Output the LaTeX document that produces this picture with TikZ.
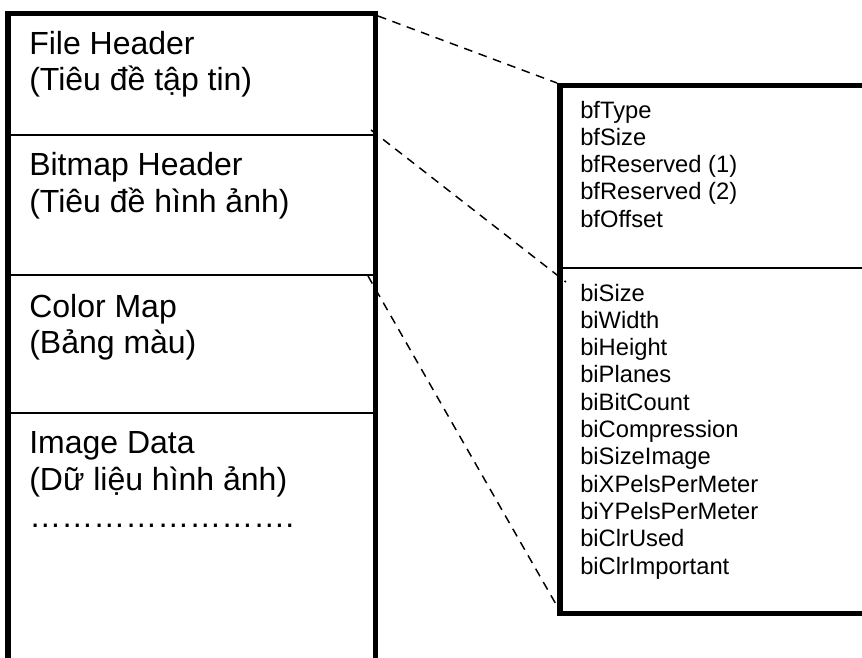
\documentclass[tikz,border=0pt]{standalone}
\usepackage{fontspec}
\setmainfont{Liberation Sans}
\begin{document}
\begin{tikzpicture}[
  x=0.75pt, y=-0.75pt,
  frame/.style={line width=3.9pt, line join=miter, line cap=rect},
  divider/.style={line width=1.7pt},
  link/.style={line width=1.1pt, dash pattern=on 6.5pt off 5pt},
  sect/.style={anchor=base west, inner sep=0pt, font=\fontsize{24}{28}\selectfont},
  field/.style={anchor=base west, inner sep=0pt, font=\fontsize{17.8}{20.5}\selectfont}
]
\useasboundingbox (0,0) rectangle (862,657);

% corner and end points of the two boxes
\coordinate (LTL) at (8,13.5);
\coordinate (LTR) at (375.5,13.5);
\coordinate (LBL) at (8,665);
\coordinate (LBR) at (375.5,665);
\coordinate (RTL) at (560,85.5);
\coordinate (RTR) at (870,85.5);
\coordinate (RBL) at (560,613.5);
\coordinate (RBR) at (870,613.5);

% ends of the dashed links
\coordinate (a1) at (378,16);
\coordinate (b1) at (557,83);
\coordinate (a2) at (371,130);
\coordinate (b2) at (566,282);
\coordinate (a3) at (368,276);
\coordinate (b3) at (557,606);

% dashed links from the file layout to the header fields
\draw[link] (a1) -- (b1);
\draw[link] (a2) -- (b2);
\draw[link] (a3) -- (b3);

% file layout (open at the bottom)
\coordinate (d1l) at (8,135);   \coordinate (d1r) at (375.5,135);
\coordinate (d2l) at (8,275);   \coordinate (d2r) at (375.5,275);
\coordinate (d3l) at (8,413);   \coordinate (d3r) at (375.5,413);
\draw[divider] (d1l) -- (d1r);
\draw[divider] (d2l) -- (d2r);
\draw[divider] (d3l) -- (d3r);
\draw[frame] (LBL) -- (LTL) -- (LTR) -- (LBR);

% header fields box (open on the right)
\coordinate (r1l) at (560,268); \coordinate (r1r) at (870,268);
\draw[divider] (r1l) -- (r1r);
\draw[frame] (RTR) -- (RTL) -- (RBL) -- (RBR);

% section labels
\node[sect] (fh1) at (29,54)  {File Header};
\node[sect] (fh2) at (29,90)  {(Tiêu đề tập tin)};
\node[sect] (bh1) at (29,175) {Bitmap Header};
\node[sect] (bh2) at (29,212) {(Tiêu đề hình ảnh)};
\node[sect] (cm1) at (29,317) {Color Map};
\node[sect] (cm2) at (29,353) {(Bảng màu)};
\node[sect] (id1) at (29,453) {Image Data};
\node[sect] (id2) at (29,490) {(Dữ liệu hình ảnh)};
\node[sect] (id3) at (29,527) {…………………….};

% file header fields
\node[field] (f1) at (580,118)   {bfType};
\node[field] (f2) at (580,145.3) {bfSize};
\node[field] (f3) at (580,172.6) {bfReserved (1)};
\node[field] (f4) at (580,199.9) {bfReserved (2)};
\node[field] (f5) at (580,227.2) {bfOffset};

% bitmap header fields
\node[field] (g1)  at (580,301)   {biSize};
\node[field] (g2)  at (580,328.3) {biWidth};
\node[field] (g3)  at (580,355.6) {biHeight};
\node[field] (g4)  at (580,382.9) {biPlanes};
\node[field] (g5)  at (580,410.2) {biBitCount};
\node[field] (g6)  at (580,437.5) {biCompression};
\node[field] (g7)  at (580,464.8) {biSizeImage};
\node[field] (g8)  at (580,492.1) {biXPelsPerMeter};
\node[field] (g9)  at (580,519.4) {biYPelsPerMeter};
\node[field] (g10) at (580,546.7) {biClrUsed};
\node[field] (g11) at (580,574)   {biClrImportant};
\end{tikzpicture}
\end{document}
